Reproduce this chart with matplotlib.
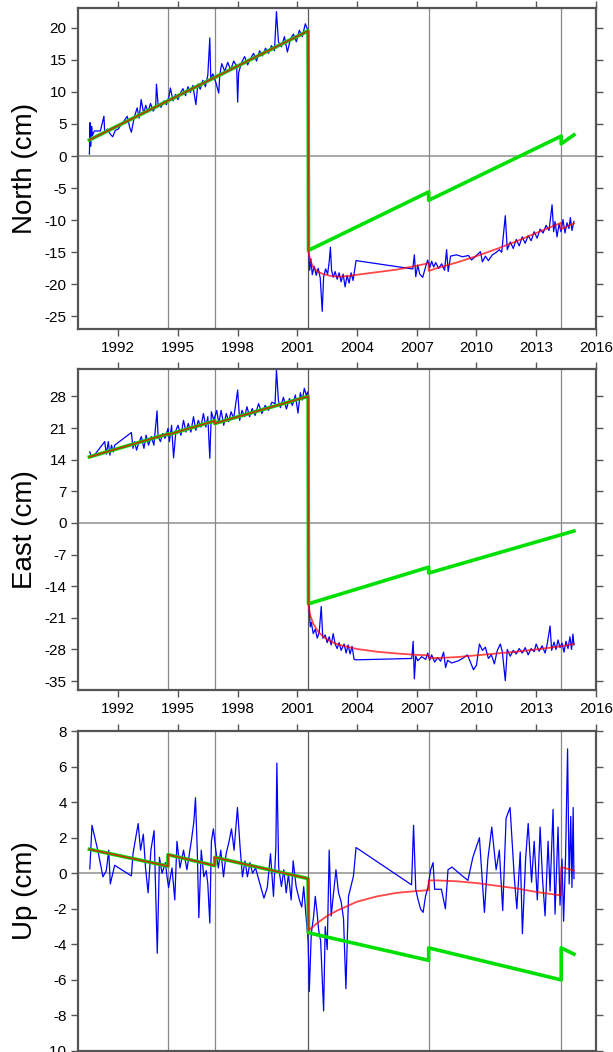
import matplotlib
matplotlib.use('Agg')
import matplotlib.pyplot as plt

plt.rcParams['font.family'] = ['Liberation Sans', 'DejaVu Sans']
plt.rcParams['axes.unicode_minus'] = False

# offset epochs (vertical lines)
epochs = [1994.5, 1996.85, 2001.55, 2007.6, 2014.26]
year_ticks = [1992, 1995, 1998, 2001, 2004, 2007, 2010, 2013, 2016]

# ---------------- North ----------------
north_t = [1990.55, 1990.58, 1990.62, 1990.66, 1990.70, 1990.80, 1991.10, 1991.28, 1991.32, 1991.45,
           1991.60, 1991.72, 1991.85, 1992.00, 1992.15, 1992.30, 1992.45, 1992.58, 1992.66, 1992.80,
           1992.95, 1993.05, 1993.15, 1993.28, 1993.38, 1993.50, 1993.62, 1993.75, 1993.88, 1993.92,
           1994.00, 1994.15, 1994.30, 1994.42, 1994.55, 1994.62, 1994.75, 1994.88, 1995.00, 1995.12,
           1995.25, 1995.38, 1995.50, 1995.62, 1995.75, 1995.90, 1996.00, 1996.12, 1996.25, 1996.38,
           1996.50, 1996.60, 1996.65, 1996.75, 1996.90, 1997.05, 1997.10, 1997.20, 1997.35, 1997.50,
           1997.65, 1997.80, 1997.95, 1998.00, 1998.05, 1998.20, 1998.35, 1998.50, 1998.65, 1998.80,
           1998.95, 1999.10, 1999.25, 1999.40, 1999.55, 1999.70, 1999.85, 1999.95, 2000.05, 2000.20,
           2000.35, 2000.50, 2000.65, 2000.80, 2000.95, 2001.10, 2001.25, 2001.40, 2001.50,
           2001.58, 2001.62, 2001.68, 2001.75, 2001.85, 2001.95, 2002.05, 2002.15, 2002.25, 2002.32,
           2002.42, 2002.52, 2002.60, 2002.66, 2002.72, 2002.80, 2002.90, 2003.00, 2003.10, 2003.20,
           2003.30, 2003.40, 2003.50, 2003.60, 2003.70, 2003.80, 2003.95, 2006.80, 2006.88, 2006.95,
           2007.05, 2007.15, 2007.30, 2007.45, 2007.55, 2007.65, 2007.75, 2007.85, 2007.95, 2008.10,
           2008.25, 2008.40, 2008.50, 2008.58, 2008.70, 2009.00, 2009.30, 2009.60, 2009.75, 2009.90,
           2010.20, 2010.30, 2010.45, 2010.60, 2010.80, 2011.00, 2011.15, 2011.27, 2011.45, 2011.55,
           2011.70, 2011.85, 2012.00, 2012.15, 2012.30, 2012.45, 2012.60, 2012.75, 2012.90, 2013.05,
           2013.20, 2013.35, 2013.50, 2013.65, 2013.80, 2013.88, 2013.95, 2014.05, 2014.15, 2014.25,
           2014.35, 2014.45, 2014.55, 2014.65, 2014.72, 2014.80, 2014.90]
north_v = [0.3, 5.2, 1.5, 4.6, 3.2, 3.9, 3.9, 6.2, 3.6, 4.2,
           3.4, 3.0, 4.0, 4.2, 4.9, 5.5, 6.2, 4.4, 3.7, 6.0,
           7.5, 5.9, 8.8, 6.6, 7.9, 6.9, 8.2, 7.0, 7.6, 11.2,
           8.0, 7.6, 8.6, 8.0, 9.3, 10.6, 8.6, 9.6, 8.8, 9.8,
           10.5, 9.4, 10.8, 9.9, 11.0, 8.0, 11.2, 10.4, 11.8, 10.8,
           12.6, 18.4, 12.0, 12.8, 11.5, 9.8, 12.6, 14.4, 13.2, 14.6,
           13.4, 14.8, 14.0, 8.4, 13.0, 14.6, 15.5, 14.2, 15.2, 16.0,
           14.8, 16.4, 15.6, 16.8, 16.0, 17.2, 16.4, 22.5, 17.8, 17.0,
           18.6, 16.2, 18.2, 19.0, 17.8, 19.6, 18.6, 20.6, 19.8,
           -15.5, -17.8, -16.0, -18.5, -17.2, -18.6, -17.5, -19.0, -24.2, -18.8,
           -17.6, -18.4, -16.5, -14.2, -17.8, -18.9, -18.0, -19.2, -18.2, -19.6,
           -18.4, -20.4, -18.6, -19.8, -18.2, -19.4, -16.3, -17.6, -15.4, -18.8,
           -17.0, -18.4, -18.9, -17.2, -16.2, -17.4, -16.4, -17.3, -16.6, -17.5,
           -16.8, -17.8, -14.6, -18.0, -15.6, -15.4, -15.7, -15.5, -16.2, -15.8,
           -14.9, -16.5, -15.6, -16.3, -15.4, -15.0, -14.6, -15.0, -9.3, -14.6,
           -13.4, -14.4, -13.0, -14.0, -12.6, -13.6, -12.4, -13.2, -11.8, -12.8,
           -11.4, -12.0, -10.8, -11.6, -7.6, -11.8, -10.2, -12.6, -10.6, -11.8,
           -9.9, -12.0, -10.4, -11.3, -9.6, -11.6, -10.2]
north_fit_pre_t = [1990.55, 2001.54]
north_fit_pre_v = [2.5, 19.5]
north_green_t = [2001.56, 2007.60, 2007.60, 2014.26, 2014.26, 2014.90]
north_green_v = [-14.7, -5.6, -6.9, 3.1, 1.9, 3.3]
north_red_t = [2001.56, 2001.65, 2001.80, 2002.00, 2002.30, 2002.70, 2003.10, 2003.60, 2004.00, 2005.00,
               2006.00, 2007.00, 2007.60, 2007.60, 2008.00, 2009.00, 2010.00, 2011.00, 2012.00, 2013.00,
               2014.26, 2014.26, 2014.90]
north_red_v = [-15.0, -16.3, -17.3, -18.0, -18.4, -18.7, -18.8, -18.7, -18.5, -18.1,
               -17.7, -17.1, -16.7, -17.9, -17.5, -16.6, -15.6, -14.5, -13.3, -12.0,
               -10.4, -11.4, -10.5]

# ---------------- East ----------------
east_t = [1990.57, 1990.63, 1990.80, 1991.32, 1991.40, 1991.50, 1991.58, 1991.66, 1991.75, 1991.82,
          1992.66, 1992.74, 1992.82, 1992.92, 1993.02, 1993.16, 1993.29, 1993.40, 1993.52, 1993.66,
          1993.79, 1993.95, 1994.00, 1994.12, 1994.23, 1994.35, 1994.50, 1994.57, 1994.68, 1994.78,
          1994.90, 1995.00, 1995.15, 1995.28, 1995.40, 1995.52, 1995.65, 1995.78, 1995.90, 1996.02,
          1996.15, 1996.28, 1996.40, 1996.50, 1996.60, 1996.68, 1996.80, 1996.95, 1997.05, 1997.17,
          1997.30, 1997.43, 1997.55, 1997.67, 1997.80, 1998.00, 1998.10, 1998.22, 1998.35, 1998.47,
          1998.60, 1998.73, 1998.88, 1999.05, 1999.22, 1999.38, 1999.55, 1999.72, 1999.88, 1999.95,
          2000.05, 2000.15, 2000.30, 2000.45, 2000.60, 2000.75, 2000.90, 2001.03, 2001.15, 2001.25,
          2001.35, 2001.45, 2001.52,
          2001.60, 2001.65, 2001.70, 2001.80, 2001.90, 2002.00, 2002.10, 2002.20, 2002.28, 2002.40,
          2002.50, 2002.60, 2002.70, 2002.80, 2002.90, 2003.00, 2003.10, 2003.20, 2003.35, 2003.45,
          2003.55, 2003.65, 2003.75, 2003.85, 2003.95, 2006.75, 2006.82, 2006.88, 2006.95, 2007.05,
          2007.25, 2007.45, 2007.55, 2007.65, 2007.75, 2007.90, 2008.05, 2008.20, 2008.35, 2008.45,
          2008.55, 2008.75, 2009.10, 2009.30, 2009.55, 2009.85, 2010.00, 2010.15, 2010.30, 2010.45,
          2010.60, 2010.75, 2010.90, 2011.05, 2011.20, 2011.30, 2011.45, 2011.55, 2011.70, 2011.85,
          2012.00, 2012.15, 2012.30, 2012.45, 2012.60, 2012.75, 2012.90, 2013.00, 2013.15, 2013.30,
          2013.45, 2013.55, 2013.70, 2013.78, 2013.90, 2014.00, 2014.10, 2014.20, 2014.30, 2014.40,
          2014.50, 2014.60, 2014.70, 2014.78, 2014.85, 2014.90]
east_v = [15.7, 14.8, 15.0, 18.0, 15.2, 18.0, 15.0, 17.2, 15.7, 17.2,
          20.0, 16.5, 18.0, 16.1, 17.6, 19.1, 16.5, 19.4, 17.2, 19.1,
          17.2, 24.8, 19.1, 18.0, 19.8, 18.7, 20.9, 18.0, 21.6, 14.4,
          20.5, 21.6, 19.4, 22.7, 20.1, 22.0, 20.1, 23.5, 20.5, 22.7,
          21.2, 24.2, 21.2, 23.5, 14.3, 24.6, 22.7, 24.9, 22.0, 24.9,
          21.6, 24.2, 22.4, 24.6, 23.1, 29.4, 22.7, 24.9, 23.5, 25.7,
          23.5, 25.3, 23.8, 26.4, 24.2, 26.0, 24.9, 26.7, 26.4, 33.8,
          27.0, 25.5, 27.8, 25.2, 27.5, 26.0, 28.3, 24.3, 28.8, 27.2,
          29.8, 28.2, 29.0,
          -19.5, -23.0, -22.0, -24.5, -23.5, -25.5, -24.2, -18.5, -25.5, -24.8,
          -26.5, -25.2, -27.0, -24.5, -26.8, -27.8, -26.5, -28.2, -26.8, -28.8,
          -27.0, -29.0, -27.3, -30.2, -30.3, -30.0, -26.2, -34.5, -29.5, -30.5,
          -29.6, -30.2, -28.8, -30.4, -29.2, -30.8, -29.8, -30.6, -28.6, -32.0,
          -30.4, -31.0, -30.5, -30.0, -29.2, -32.5, -31.5, -26.8, -28.2, -27.5,
          -30.0, -29.2, -31.2, -28.2, -26.8, -28.5, -34.9, -28.0, -29.5, -28.2,
          -29.0, -27.8, -28.8, -27.6, -29.2, -27.8, -28.5, -26.8, -28.4, -27.2,
          -28.8, -27.0, -22.8, -28.2, -26.4, -28.0, -25.9, -27.6, -26.6, -28.6,
          -26.2, -27.8, -25.2, -28.0, -24.6, -27.0]
east_fit_pre_t = [1990.55, 1994.50, 1994.50, 1996.85, 1996.85, 2001.54]
east_fit_pre_v = [14.6, 19.7, 19.5, 22.6, 22.0, 28.0]
east_green_t = [2001.56, 2007.60, 2007.60, 2014.90]
east_green_v = [-17.9, -9.8, -11.1, -1.8]
east_red_t = [2001.56, 2001.65, 2001.80, 2002.00, 2002.30, 2002.70, 2003.10, 2003.60, 2004.00, 2005.00,
              2006.00, 2007.00, 2007.60, 2007.60, 2008.00, 2009.00, 2010.00, 2011.00, 2012.00, 2013.00,
              2014.26, 2014.90]
east_red_v = [-18.0, -20.5, -22.3, -23.8, -25.2, -26.3, -27.0, -27.5, -27.9, -28.5,
              -28.9, -29.2, -29.3, -29.9, -29.9, -29.7, -29.3, -28.9, -28.5, -28.0,
              -27.3, -26.8]

# ---------------- Up ----------------
up_t = [1990.57, 1990.68, 1990.97, 1991.23, 1991.40, 1991.52, 1991.60, 1991.82, 1992.66, 1992.74,
        1993.00, 1993.12, 1993.26, 1993.37, 1993.50, 1993.64, 1993.80, 1993.96, 1994.07, 1994.20,
        1994.37, 1994.45, 1994.53, 1994.70, 1994.84, 1994.95, 1995.10, 1995.28, 1995.45, 1995.67,
        1995.80, 1995.88, 1995.97, 1996.05, 1996.17, 1996.30, 1996.42, 1996.50, 1996.60, 1996.68,
        1996.78, 1996.90, 1997.03, 1997.15, 1997.29, 1997.42, 1997.57, 1997.69, 1997.82, 1997.99,
        1998.12, 1998.24, 1998.37, 1998.49, 1998.62, 1998.75, 1998.90, 1999.07, 1999.32, 1999.49,
        1999.65, 1999.80, 1999.92, 1999.97, 2000.06, 2000.20, 2000.32, 2000.44, 2000.55, 2000.69,
        2000.79, 2000.94, 2001.10, 2001.22, 2001.32, 2001.42,
        2001.54, 2001.60, 2001.70, 2001.82, 2001.90, 2001.99, 2002.07, 2002.17, 2002.32, 2002.40,
        2002.50, 2002.60, 2002.70, 2002.82, 2002.94, 2003.07, 2003.20, 2003.32, 2003.44, 2003.57,
        2003.70, 2003.82, 2003.95, 2006.74, 2006.84, 2006.95, 2007.07, 2007.19, 2007.32, 2007.44,
        2007.57, 2007.70, 2007.82, 2007.90, 2008.24, 2008.44, 2008.57, 2008.77, 2009.24, 2009.57,
        2009.82, 2010.15, 2010.40, 2010.57, 2010.77, 2010.99, 2011.15, 2011.32, 2011.49, 2011.69,
        2011.90, 2012.03, 2012.20, 2012.31, 2012.47, 2012.60, 2012.77, 2012.90, 2013.06, 2013.20,
        2013.32, 2013.45, 2013.60, 2013.70, 2013.85, 2013.95, 2014.10, 2014.20, 2014.30, 2014.38,
        2014.48, 2014.58, 2014.66, 2014.74, 2014.80, 2014.86, 2014.90]
up_v = [0.25, 2.7, 1.3, -0.2, 0.15, 1.3, -0.6, 0.45, -0.15, 1.1,
        2.8, 1.3, 2.2, 0.3, -1.1, 1.3, 2.4, -4.5, 0.9, 0.0,
        0.6, -0.2, -0.8, 0.3, -1.5, 1.8, 0.3, 1.3, 0.2, 1.8,
        2.9, 4.25, 1.3, -2.5, 1.3, -0.2, 0.15, -0.6, -2.8, 1.8,
        2.5, 1.3, 0.3, 1.3, -0.2, 1.1, 1.8, 2.5, 1.3, 3.7,
        1.5, -0.2, 0.7, -0.2, 0.6, 0.0, 0.3, -0.4, -1.4, -0.8,
        1.1, -1.3, 1.45, 6.2, 0.35, -0.75, 0.2, -1.1, -0.05, -1.5,
        0.7, -0.75, -1.5, -1.9, -0.75, -2.2,
        -3.8, -6.65, -3.4, -2.4, -1.3, -2.2, -3.2, -3.8, -7.75, -3.0,
        -4.3, 1.3, -2.4, -1.1, 0.2, -1.1, -1.6, -2.55, -6.5, -1.3,
        -0.7, -0.15, 1.45, -0.65, 2.7, -0.9, -1.5, -2.0, -2.2, -1.3,
        -0.75, 0.2, 0.6, -0.9, -0.9, -2.0, 0.2, 0.35, -0.1, -0.4,
        0.9, 2.0, -2.2, 0.75, 2.6, 0.2, 1.3, -2.1, 3.1, 3.7,
        -0.2, -2.0, 1.2, -3.4, 0.8, 2.8, -0.5, 1.8, -1.5, 2.6,
        -0.3, -2.4, 1.8, -1.0, 3.6, -2.3, 2.6, -1.8, 0.8, -2.7,
        1.0, 7.0, -0.6, 3.2, -0.8, 3.7, -0.3]
up_fit_pre_t = [1990.55, 1994.50, 1994.50, 1996.85, 1996.85, 2001.54]
up_fit_pre_v = [1.35, 0.4, 1.05, 0.43, 0.9, -0.3]
up_green_t = [2001.56, 2007.60, 2007.60, 2014.26, 2014.26, 2014.90]
up_green_v = [-3.35, -4.9, -4.2, -6.0, -4.2, -4.55]
up_red_t = [2001.56, 2001.80, 2002.00, 2002.50, 2003.00, 2003.50, 2004.00, 2005.00, 2006.00, 2007.00,
            2007.60, 2007.60, 2008.00, 2009.00, 2010.00, 2011.00, 2012.00, 2013.00, 2014.26, 2014.26,
            2014.90]
up_red_v = [-3.2, -3.0, -2.8, -2.4, -2.1, -1.85, -1.6, -1.3, -1.1, -1.0,
            -0.95, -0.4, -0.4, -0.45, -0.55, -0.7, -0.85, -1.05, -1.25, 0.35,
            0.15]


def draw_panel(ax, obs_t, obs_v, pre_t, pre_v, g_t, g_v, r_t, r_v, ylim, yticks, label):
    ax.axhline(0, color='#999999', lw=1.2, zorder=1)
    for e in epochs:
        ax.axvline(e, color='#5a5a5a' if e == 2001.55 else '#888888', lw=0.9, zorder=1)
    ax.plot(obs_t, obs_v, color='#0000ff', lw=0.9, zorder=2)
    ax.plot(pre_t + g_t, pre_v + g_v, color='#00e000', lw=2.6, zorder=3)
    ax.plot(pre_t + r_t, pre_v + r_v, color='#ff0000', lw=1.3, alpha=0.72, zorder=4)

    ax.set_xlim(1990, 2016)
    ax.set_ylim(*ylim)
    ax.set_xticks(year_ticks)
    ax.set_yticks(yticks)
    ax.tick_params(direction='out', length=5, width=1, color='#555555', labelsize=11,
                   top=True, right=True, labeltop=False, labelright=False)
    for s in ax.spines.values():
        s.set_color('#555555')
        s.set_linewidth(1.6)
    ax.set_ylabel(label, fontsize=20)
    ax.yaxis.set_label_coords(-0.078, 0.5)


fig = plt.figure(figsize=(6.13, 10.52), dpi=100)
ax1 = fig.add_axes([0.128, 0.687, 0.844, 0.305])
ax2 = fig.add_axes([0.128, 0.344, 0.844, 0.305])
ax3 = fig.add_axes([0.128, 0.001, 0.844, 0.304])

draw_panel(ax1, north_t, north_v, north_fit_pre_t, north_fit_pre_v, north_green_t, north_green_v,
           north_red_t, north_red_v, (-27, 23), range(-25, 21, 5), 'North (cm)')
draw_panel(ax2, east_t, east_v, east_fit_pre_t, east_fit_pre_v, east_green_t, east_green_v,
           east_red_t, east_red_v, (-37, 34), range(-35, 29, 7), 'East (cm)')
draw_panel(ax3, up_t, up_v, up_fit_pre_t, up_fit_pre_v, up_green_t, up_green_v,
           up_red_t, up_red_v, (-10, 8), range(-10, 9, 2), 'Up (cm)')
# the bottom panel's year labels fall below the picture edge in the original
ax3.tick_params(labelbottom=False)

fig.savefig('out.png', dpi=100)
